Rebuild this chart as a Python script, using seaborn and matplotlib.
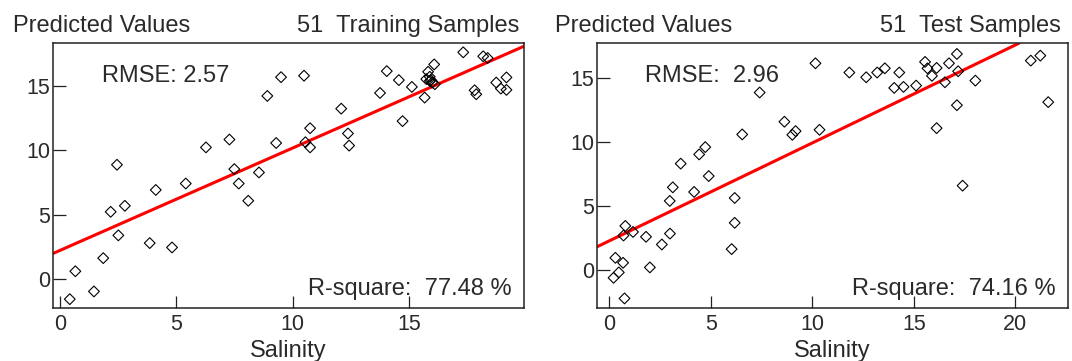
import matplotlib
matplotlib.use("Agg")
import matplotlib.pyplot as plt
import seaborn as sns
import pandas as pd

sns.set_theme(style="white")
plt.rcParams['font.family'] = ['Liberation Sans', 'DejaVu Sans']

# ---------------- data ----------------
train_x = [0.41, 0.65, 1.45, 1.85, 2.17, 2.44, 2.50, 2.78, 3.85, 4.11, 4.81, 5.40,
           6.27, 7.28, 7.49, 7.68, 8.09, 8.55, 8.91, 9.29, 9.50, 10.49, 10.55, 10.75,
           10.75, 12.09, 12.38, 12.43, 13.76, 14.05, 14.57, 14.73, 15.13, 15.68, 15.75,
           15.83, 15.90, 15.95, 16.00, 16.09, 16.12, 17.34, 17.83, 17.90, 18.20, 18.39,
           18.76, 18.96, 19.20, 19.20, 15.90]
train_y = [-1.57, 0.60, -0.97, 1.62, 5.22, 8.88, 3.39, 5.69, 2.79, 6.92, 2.45, 7.42,
           10.23, 10.84, 8.54, 7.42, 6.08, 8.28, 14.23, 10.57, 15.69, 15.80, 10.63, 11.72,
           10.23, 13.24, 11.31, 10.37, 14.46, 16.16, 15.46, 12.27, 14.93, 14.10, 15.54,
           16.11, 15.72, 15.46, 15.27, 16.68, 15.14, 17.62, 14.67, 14.36, 17.31, 17.18,
           15.27, 14.80, 15.67, 14.70, 15.40]

test_x = [0.20, 0.29, 0.46, 0.67, 0.69, 0.78, 0.74, 1.16, 1.80, 1.99, 2.58, 2.97,
          2.98, 3.12, 3.51, 4.17, 4.42, 4.72, 4.89, 6.02, 6.17, 6.17, 6.54, 7.40,
          8.62, 9.01, 9.17, 10.15, 10.35, 11.82, 12.65, 13.19, 13.57, 14.03, 14.28,
          14.49, 15.11, 15.55, 15.67, 15.89, 16.12, 16.12, 16.53, 16.73, 17.12, 17.12,
          17.18, 17.40, 18.03, 20.76, 21.23, 21.62]
test_y = [-0.60, 0.96, -0.18, 0.57, 2.70, 3.45, -2.21, 2.98, 2.60, 0.21, 2.00, 5.40,
          2.85, 6.46, 8.31, 6.10, 9.03, 9.60, 7.34, 1.64, 5.63, 3.69, 10.59, 13.86,
          11.58, 10.56, 10.85, 16.14, 10.95, 15.42, 15.05, 15.42, 15.75, 14.22, 15.42,
          14.30, 14.40, 16.25, 15.75, 15.16, 15.78, 11.08, 14.66, 16.14, 16.87, 12.87,
          15.52, 6.59, 14.79, 16.35, 16.74, 13.11]

train_fit = [2.23, 0.795]   # intercept, slope
test_fit = [2.29, 0.764]

panels = [
    dict(x=train_x, y=train_y, fit=train_fit, title_r="51  Training Samples",
         rmse="RMSE: 2.57", r2="R-square:  77.48 %",
         xlim=(-0.30, 19.95), ylim=(-2.28, 18.32), xticks=[0, 5, 10, 15],
         rect=[0.0497, 0.146, 0.439, 0.734], tl=-0.086, tr=0.99),
    dict(x=test_x, y=test_y, fit=test_fit, title_r="51  Test Samples",
         rmse="RMSE:  2.96", r2="R-square:  74.16 %",
         xlim=(-0.61, 22.58), ylim=(-2.98, 17.70), xticks=[0, 5, 10, 15, 20],
         rect=[0.557, 0.146, 0.439, 0.734], tl=-0.09, tr=0.985),
]

fig = plt.figure(figsize=(10.72, 3.61), dpi=100)
txt_color = "#2a2a2a"
fs = 17
tfs = 15.5

for p in panels:
    ax = fig.add_axes(p["rect"])
    df = pd.DataFrame({"Salinity": p["x"], "Predicted": p["y"]})
    sns.scatterplot(data=df, x="Salinity", y="Predicted", ax=ax, marker="D",
                    s=30, facecolor="none", edgecolor="black", linewidth=0.8,
                    zorder=3)
    ax.axline((0, p["fit"][0]), slope=p["fit"][1], color="#ff0000", lw=2.2, zorder=2)
    ax.set_xlim(*p["xlim"])
    ax.set_ylim(*p["ylim"])
    ax.set_xticks(p["xticks"])
    ax.set_yticks([0, 5, 10, 15])
    ax.tick_params(direction="in", length=9, width=0.9, color="#222222",
                   labelsize=tfs, labelcolor=txt_color,
                   bottom=True, left=True)
    ax.tick_params(axis="x", pad=4)
    ax.tick_params(axis="y", pad=2)
    for sp in ax.spines.values():
        sp.set_color("#222222")
        sp.set_linewidth(1.1)
    ax.set_xlabel("Salinity", fontsize=fs, color=txt_color, labelpad=4)
    ax.set_ylabel("")
    ax.text(p["tl"], 1.044, "Predicted Values", transform=ax.transAxes,
            ha="left", va="baseline", fontsize=fs, color=txt_color)
    ax.text(p["tr"], 1.044, p["title_r"], transform=ax.transAxes,
            ha="right", va="baseline", fontsize=fs, color=txt_color)
    ax.text(0.1025, 0.855, p["rmse"], transform=ax.transAxes,
            ha="left", va="baseline", fontsize=fs, color=txt_color)
    ax.text(0.975, 0.05, p["r2"], transform=ax.transAxes,
            ha="right", va="baseline", fontsize=fs, color=txt_color)

fig.savefig("out.png", dpi=100)
